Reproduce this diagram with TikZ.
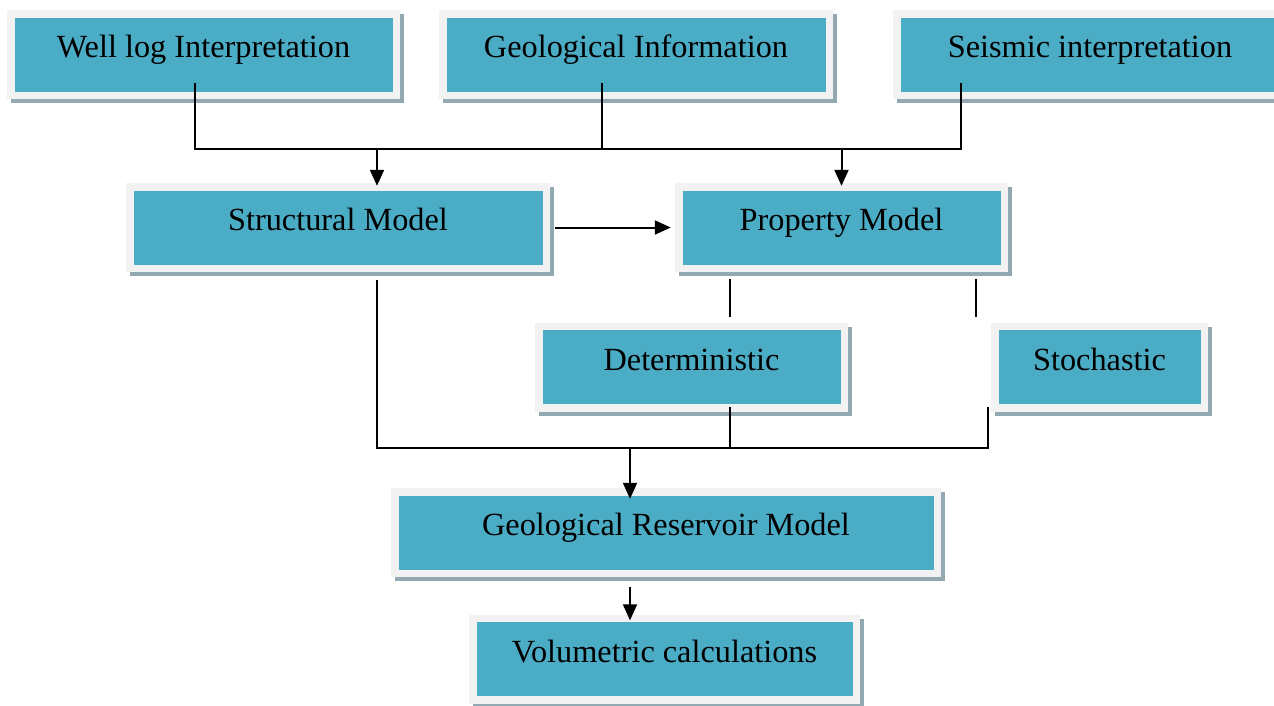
\documentclass[tikz,border=0pt]{standalone}
\usepackage{fontspec}
\setmainfont{Liberation Serif}
\usetikzlibrary{arrows.meta,shadows}
\definecolor{tealfill}{HTML}{4BACC6}
\definecolor{framegrey}{HTML}{F2F2F2}
\definecolor{shadowgrey}{HTML}{92A9B2}
\newcommand{\boxfont}{\fontsize{32.3}{37}\selectfont}
\begin{document}
\begin{tikzpicture}
[x=1pt,y=-1pt,
  geobox/.style={rectangle,fill=framegrey,inner sep=0pt,minimum height=89pt,
    text height=22pt,text depth=16pt,font=\boxfont,
    drop shadow={shadow xshift=4pt,shadow yshift=-4pt,fill=shadowgrey,opacity=1},
    path picture={\fill[tealfill]
      ([shift={(7.5pt,-7.5pt)}]path picture bounding box.north west) rectangle
      ([shift={(-7.5pt,7.5pt)}]path picture bounding box.south east);}},
  linedecorate/.style={-,line width=2pt},
  arrowdecorate/.style={-{Triangle[length=16pt,width=14pt]},line width=2pt}]
\useasboundingbox (0,0) rectangle (1274,705);
\clip (0,0) rectangle (1274,705);
%% boxes
\foreach \nodename/\x/\y/\boxw/\lbl in {wli/203.5/54.5/393/Well log Interpretation,
  geo/636/54.5/394/Geological Information, sei/1090/54.5/394/Seismic interpretation,
  str/338/227.5/424/Structural Model, prop/841.5/227.5/333/Property Model,
  det/691.5/367/313/Deterministic, sto/1099.5/367/217/Stochastic,
  grm/666/532.5/550/Geological Reservoir Model, vol/664.5/659/391/Volumetric calculations} {
  \node[geobox,minimum width=\boxw pt] (\nodename) at (\x,\y) {\lbl};
}
%% junction points
\coordinate (b1) at (195,149);
\coordinate (b2) at (602,149);
\coordinate (b3) at (961,149);
\coordinate (a1) at (377,149);
\coordinate (p1) at (730,279);
\coordinate (p2) at (976,279);
\coordinate (m1) at (377,448);
\coordinate (m2) at (988,448);
\coordinate (m3) at (630,448);
%% lines
\draw[linedecorate] (b1 |- wli.south) ++(0,-16) -- (b1) -- (b3) -- ++(0,-66);
\draw[linedecorate] (b2) -- ++(0,-66);
\draw[linedecorate] (p1) -- ++(0,38);
\draw[linedecorate] (p2) -- ++(0,38);
\draw[linedecorate] (m1 |- str.south) ++(0,8) -- (m1) -- (m2) -- ++(0,-41);
\draw[linedecorate] (p1 |- det.south) ++(0,-5) -- (p1 |- m1);
%% arrows
\draw[arrowdecorate,shorten >=-3pt] (a1) -- (a1 |- str.north);
\draw[arrowdecorate,shorten >=-3pt] (prop.north |- b1) -- (prop.north);
\draw[arrowdecorate] ([xshift=5pt]str.east) -- ([xshift=-4pt]prop.west);
\draw[arrowdecorate,shorten >=-11pt] (m3) -- (m3 |- grm.north);
\draw[arrowdecorate,shorten >=-6pt] (m3 |- grm.south) ++(0,10) -- (m3 |- vol.north);
\end{tikzpicture}
\end{document}
